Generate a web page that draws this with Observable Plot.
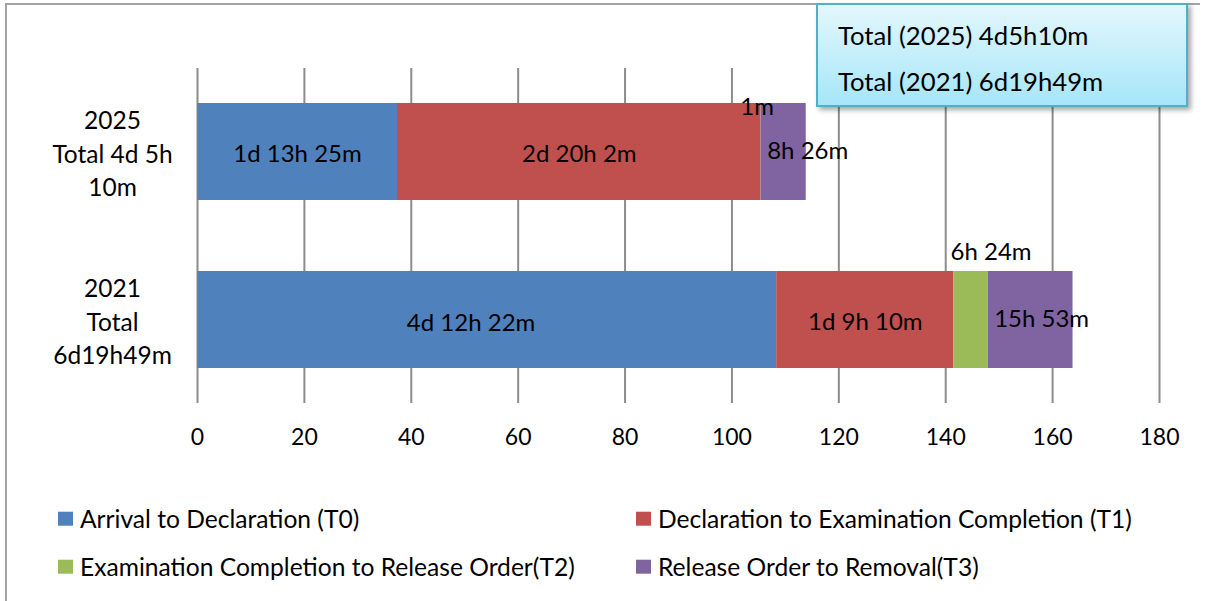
<!DOCTYPE html>
<html>
<head>
<meta charset="utf-8">
<script src="https://cdn.jsdelivr.net/npm/d3@7"></script>
<script src="https://cdn.jsdelivr.net/npm/@observablehq/plot@0.6"></script>
<style>
  html, body { margin: 0; padding: 0; background: #fff; }
  #wrap { position: relative; width: 1208px; height: 601px; overflow: hidden; font-family: Lato, "Open Sans", sans-serif; color: #000; }
  #frame { position: absolute; left: 5px; top: 3px; width: 1193px; height: 700px; border-left: 2px solid #a3a3a3; border-top: 2px solid #a3a3a3; }
  #chart { position: absolute; left: 0; top: 0; }
  #totals { position: absolute; left: 816px; top: 3px; width: 368px; height: 100px; border: 2px solid #4fb0c8;
            background: linear-gradient(#e4f7fd, #a6e6f8); box-shadow: 3px 3px 5px rgba(0,0,0,0.35); font-size: 25.7px; }
  #totals div { position: absolute; left: 20px; white-space: nowrap; line-height: 1; transform: translateY(-50%); }
  #legend { position: absolute; left: 0; top: 0; font-size: 24.6px; }
  .item { position: absolute; display: flex; align-items: center; white-space: nowrap; line-height: 1; transform: translateY(-50%); }
  .sw { width: 15px; height: 14px; margin-right: 7px; flex: none; }
</style>
</head>
<body>
<div id="wrap">
  <div id="frame"></div>
  <div id="chart"></div>
  <div id="totals"></div>
  <div id="legend"></div>
</div>
<script>
// ---- data ----
const years = ["2025", "2021"];
const yearLabels = ["2025\nTotal 4d 5h\n10m", "2021\nTotal\n6d19h49m"];
const phases = ["Arrival to Declaration (T0)", "Declaration to Examination Completion (T1)",
                "Examination Completion to Release Order(T2)", "Release Order to Removal(T3)"];
const phaseKeys = ["T0", "T1", "T2", "T3"];
const colors = ["#4f81bd", "#c0504d", "#9bbb59", "#8064a2"];
// hours per phase, [2025, 2021]
const T0 = [37.42, 108.37];
const T1 = [68.03, 33.17];
const T2 = [0.02, 6.40];
const T3 = [8.43, 15.88];
const labels2025 = ["1d 13h 25m", "2d 20h 2m", "1m", "8h 26m"];
const labels2021 = ["4d 12h 22m", "1d 9h 10m", "6h 24m", "15h 53m"];
const totals = ["Total (2025) 4d5h10m", "Total (2021) 6d19h49m"];
const xTicks = [0, 20, 40, 60, 80, 100, 120, 140, 160, 180];

// ---- table ----
const series = [T0, T1, T2, T3];
const labelSets = [labels2025, labels2021];
const data = [];
years.forEach((y, yi) => {
  phaseKeys.forEach((k, pi) => {
    data.push({year: y, key: k, phase: phases[pi], value: series[pi][yi], label: labelSets[yi][pi]});
  });
});
const yLabelMap = new Map(years.map((y, i) => [y, yearLabels[i]]));

const font = "Lato, 'Open Sans', sans-serif";
const stackOpts = {x: "value", y: "year", text: "label"};
const sel = (pred) => Plot.filter(pred, Plot.stackX(stackOpts));
const sel1 = (pred) => Plot.filter(pred, Plot.stackX1(stackOpts));
const FS = 24;

const chart = Plot.plot({
  width: 1208,
  height: 470,
  marginLeft: 197,
  marginRight: 49,
  marginTop: 68,
  marginBottom: 67,
  style: {fontFamily: font, fontSize: FS + "px", background: "transparent", color: "#000"},
  x: {domain: [0, 180], ticks: xTicks},
  y: {domain: years, paddingInner: 0.424, paddingOuter: 0.206},
  color: {domain: phases, range: colors},
  marks: [
    Plot.gridX(xTicks, {stroke: "#8c8c8c", strokeOpacity: 1, strokeWidth: 2}),
    Plot.barX(data, Plot.stackX({x: "value", y: "year", fill: "phase"})),
    // labels centered in segments
    Plot.text(data, {...sel(d => d.key === "T1" || (d.year === "2025" && d.key === "T0")), dy: 2, fontSize: FS}),
    Plot.text(data, {...sel(d => d.year === "2021" && d.key === "T0"), dx: -16, dy: 3, fontSize: FS}),
    // small T2 labels placed above
    Plot.text(data, {...sel(d => d.year === "2025" && d.key === "T2"), dx: -4, dy: -45, fontSize: FS}),
    Plot.text(data, {...sel(d => d.year === "2021" && d.key === "T2"), dx: 20, dy: -68, fontSize: FS}),
    // T3 labels starting at segment start
    Plot.text(data, {...sel1(d => d.key === "T3"), textAnchor: "start", dx: 6, dy: -1, fontSize: FS}),
    Plot.axisX({ticks: xTicks, tickSize: 0, tickPadding: 25, fontSize: 23, label: null}),
    Plot.axisY({tickSize: 0, tickPadding: 85, textAnchor: "middle", lineHeight: 1.36,
                tickFormat: d => yLabelMap.get(d), fontSize: 24.5, label: null})
  ]
});
document.getElementById("chart").appendChild(chart);

// totals box
const tb = document.getElementById("totals");
const totalY = [31, 77];
totals.forEach((t, i) => {
  const d = document.createElement("div");
  d.textContent = t;
  d.style.top = totalY[i] + "px";
  tb.appendChild(d);
});

// legend
const lg = document.getElementById("legend");
const legendPos = [[58, 519], [636, 519], [58, 567], [636, 567]];
phases.forEach((p, i) => {
  const it = document.createElement("div");
  it.className = "item";
  it.style.left = legendPos[i][0] + "px";
  it.style.top = legendPos[i][1] + "px";
  const sw = document.createElement("span");
  sw.className = "sw";
  sw.style.background = colors[i];
  const tx = document.createElement("span");
  tx.textContent = p;
  it.appendChild(sw);
  it.appendChild(tx);
  lg.appendChild(it);
});
</script>
</body>
</html>
